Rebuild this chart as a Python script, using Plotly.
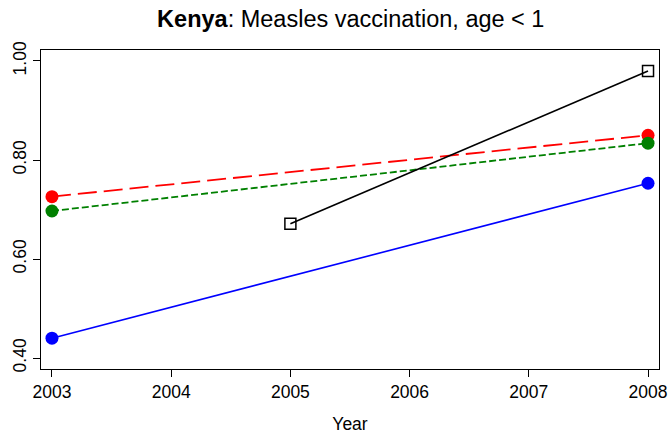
import plotly.graph_objects as go

years = [2003, 2004, 2005, 2006, 2007, 2008]
red_x = [2003, 2008]
red_y = [0.726, 0.850]
green_x = [2003, 2008]
green_y = [0.697, 0.834]
blue_x = [2003, 2008]
blue_y = [0.440, 0.753]
black_x = [2005, 2008]
black_y = [0.671, 0.980]
ytick_vals = [0.40, 0.60, 0.80, 1.00]
ytick_text = ["0.40", "0.60", "0.80", "1.00"]

fig = go.Figure()
fig.add_trace(go.Scatter(x=red_x, y=red_y, mode="lines+markers",
                         line=dict(color="red", width=1.8, dash="19px,7px"),
                         marker=dict(color="red", size=13)))
fig.add_trace(go.Scatter(x=green_x, y=green_y, mode="lines+markers",
                         line=dict(color="green", width=1.8, dash="7px,3px"),
                         marker=dict(color="green", size=13)))
fig.add_trace(go.Scatter(x=blue_x, y=blue_y, mode="lines+markers",
                         line=dict(color="blue", width=1.6),
                         marker=dict(color="blue", size=13)))
fig.add_trace(go.Scatter(x=black_x, y=black_y, mode="lines+markers",
                         line=dict(color="black", width=1.6),
                         marker=dict(symbol="square-open", color="black", size=11,
                                     line=dict(width=1.5))))

fig.update_layout(
    width=672, height=438,
    margin=dict(l=41, r=13, t=50, b=69),
    paper_bgcolor="white", plot_bgcolor="white",
    showlegend=False,
    font=dict(family="Liberation Sans, Arial, sans-serif", color="black", size=17.5),
    title=dict(text="<b>Kenya</b>: Measles vaccination, age < 1",
               xref="container", yref="container",
               x=0.522, xanchor="center", y=0.957, yanchor="middle",
               font=dict(size=23.5, color="black")),
)
fig.update_xaxes(range=[2002.908, 2008.092], tickvals=years,
                 ticktext=[str(y) for y in years], automargin=False,
                 showgrid=False, zeroline=False, showline=True, mirror=True,
                 linecolor="black", linewidth=1, ticks="outside", ticklen=7,
                 tickcolor="black", tickfont=dict(size=17.5),
                 title=dict(text="Year", font=dict(size=17.5), standoff=16))
fig.update_yaxes(range=[0.3778, 1.0222], tickvals=ytick_vals, ticktext=ytick_text,
                 tickangle=-90, automargin=False,
                 showgrid=False, zeroline=False, showline=True, mirror=True,
                 linecolor="black", linewidth=1, ticks="outside", ticklen=7,
                 tickcolor="black", tickfont=dict(size=17.5))

fig.write_html("out.html", config={"displayModeBar": False},
               post_script="document.body.style.margin='0';")
